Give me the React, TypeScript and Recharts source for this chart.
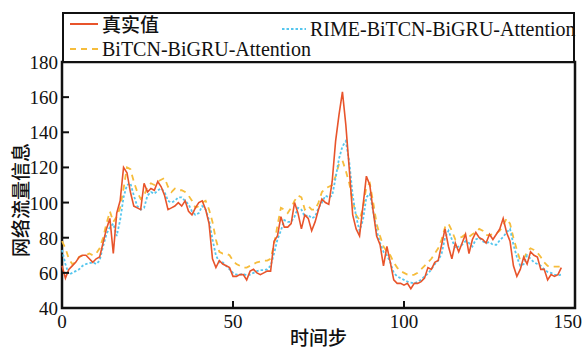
import React from "react";
import { LineChart, Line, XAxis, YAxis, ReferenceArea, Legend } from "recharts";

// 网络流量：真实值与两个模型的预测值（每个时间步一个点）
const actual = [
  64, 57, 62, 64, 66, 69, 70, 70, 68, 66,
  68, 69, 77, 85, 91, 71, 94, 101, 120, 117,
  106, 98, 97, 96, 111, 106, 108, 107, 112, 109,
  104, 96, 97, 98, 100, 98, 101, 95, 93, 97,
  100, 101, 96, 88, 68, 63, 67, 65, 64, 63,
  58, 58, 59, 59, 56, 61, 62, 60, 59, 60,
  61, 61, 78, 81, 92, 86, 86, 88, 100, 94,
  85, 93, 91, 84, 89, 96, 102, 100, 99, 112,
  135, 150, 163, 144, 119, 93, 85, 81, 98, 115,
  110, 95, 81, 76, 64, 75, 66, 56, 54, 54,
  53, 54, 51, 54, 54, 55, 57, 63, 62, 66,
  67, 76, 85, 75, 68, 77, 72, 77, 82, 71,
  79, 83, 80, 79, 77, 82, 79, 82, 85, 91,
  83, 78, 64, 58, 62, 69, 65, 72, 70, 69,
  62, 62, 56, 59, 58, 59, 63,
];

const rimeModel = [
  73, 65, 59, 60, 61, 62, 64, 65, 65.5, 66,
  65, 67, 75, 82, 86, 88, 81, 90, 103, 110,
  111, 104, 98, 96, 97, 104, 106, 105, 107, 108,
  106, 101, 100, 101, 103, 103, 101, 99, 95, 93,
  94, 98, 96, 90, 79, 70, 66, 66, 64, 62,
  60, 59, 59, 59.5, 58.5, 59, 60, 61, 61.5, 61.5,
  62, 64, 71, 79, 84, 90, 89, 89, 92, 97,
  96, 92, 93, 91, 92, 97, 100, 104, 103, 104,
  114, 125, 132, 135, 123, 104, 92, 84, 90, 103,
  105, 95, 84, 77, 72, 70, 66, 60, 58, 57,
  56, 55, 54.5, 54, 55, 56, 58, 59.5, 62, 65,
  67, 71, 80, 84, 79, 74, 75, 76, 78, 77,
  75, 79, 80, 78, 77, 77.5, 76, 76, 78.5, 80.5,
  83, 85, 76, 69, 64, 65, 70, 68, 66, 65,
  64, 62, 60.5, 60, 59, 58.5, 59,
];

const baseModel = [
  78, 74, 68, 65, 66, 69, 70, 70, 71, 70,
  71, 74, 80, 88, 95, 89, 92, 97, 108, 120,
  119, 112, 106, 102, 104, 109, 111, 110, 112, 113,
  114, 109, 106, 108, 107, 107, 106, 104, 101, 97,
  98, 100, 101, 96, 89, 79, 72, 71, 71, 70,
  67, 65, 64, 63, 63, 64, 65, 66, 66.5, 67,
  67, 68, 76, 87, 97, 96, 94, 97, 101, 104,
  103, 96, 98, 96, 96, 100, 106, 108, 109, 110,
  115, 122, 124, 118, 111, 101, 93, 90, 97, 109,
  111, 100, 88, 81, 75, 72, 70, 66, 63, 61,
  60, 59, 58.5, 59, 60, 62, 64, 66, 68, 71,
  74, 79, 86, 88, 84, 79, 80, 80.5, 82, 80.5,
  82, 83, 85, 84, 81.5, 81.5, 82, 82.5, 84, 87,
  91, 88, 80, 73, 67, 68, 72, 74, 73, 71.5,
  69, 66, 64, 63.5, 63.5, 63.5, 63.5,
];

const xTicks = [0, 50, 100, 150];
const yTicks = [40, 60, 80, 100, 120, 140, 160, 180];

const data = actual.map((v, i) => ({
  step: i,
  actual: v,
  rime: rimeModel[i],
  base: baseModel[i],
}));

const RED = "#e8542b";
const CYAN = "#55c6ee";
const YELLOW = "#f6bd3c";
const FONT = '"Liberation Serif", "Times New Roman", "Noto Sans CJK SC", serif';
const CJK = '"Noto Sans CJK SC", sans-serif';

const XTick = (props: any) => {
  const { x, y, payload } = props;
  const v = payload.value;
  const inner = v !== 0 && v !== 150;
  // the last label sits left of the corner so it stays inside the page
  const last = v === 150;
  return (
    <g>
      {inner && <line x1={x} x2={x} y1={y} y2={y - 7} stroke="#111" strokeWidth={2} />}
      <text
        x={last ? x + 7 : x}
        y={y + 20}
        textAnchor={last ? "end" : "middle"}
        fontSize={19}
        fontFamily={FONT}
        fill="#111"
      >
        {v}
      </text>
    </g>
  );
};

const YTick = (props: any) => {
  const { x, y, payload } = props;
  const v = payload.value;
  const inner = v !== 40 && v !== 180;
  return (
    <g>
      {inner && <line x1={x} x2={x + 7} y1={y} y2={y} stroke="#111" strokeWidth={2} />}
      <text x={x - 4} y={y + 7} textAnchor="end" fontSize={19} fontFamily={FONT} fill="#111">
        {v}
      </text>
    </g>
  );
};

const YLabel = (props: any) => {
  const vb = props.viewBox || { x: 0, y: 62, width: 62, height: 246 };
  const cy = vb.y + vb.height / 2 + 15;
  return (
    <text
      x={19}
      y={cy}
      transform={`rotate(-90, 19, ${cy})`}
      textAnchor="middle"
      dominantBaseline="central"
      fontSize={19}
      fontWeight={500}
      fontFamily={CJK}
      fill="#111"
    >
      网络流量信息
    </text>
  );
};

const XLabel = (props: any) => {
  const vb = props.viewBox || { x: 62, y: 308, width: 513, height: 41 };
  return (
    <text
      x={vb.x + vb.width / 2}
      y={vb.y + 37}
      textAnchor="middle"
      fontSize={19}
      fontWeight={500}
      fontFamily={CJK}
      fill="#111"
    >
      时间步
    </text>
  );
};

const Swatch = ({ color, dash, w = 28 }: { color: string; dash?: string; w?: number }) => (
  <svg width={w} height={6} style={{ display: "block" }}>
    <line x1={0} x2={w} y1={3} y2={3} stroke={color} strokeWidth={2} strokeDasharray={dash} />
  </svg>
);

const LegendBox = () => {
  const item = (
    left: number,
    top: number,
    color: string,
    dash: string | undefined,
    w: number,
    label: string,
    cjk?: boolean
  ) => (
    <div style={{ position: "absolute", left, top, display: "flex", alignItems: "center", gap: 4 }}>
      <Swatch color={color} dash={dash} w={w} />
      <span
        style={{
          fontFamily: cjk ? CJK : FONT,
          fontSize: cjk ? 19 : 20,
          fontWeight: cjk ? 500 : 400,
          color: "#111",
          lineHeight: "22px",
          whiteSpace: "nowrap",
        }}
      >
        {label}
      </span>
    </div>
  );
  return (
    <div
      style={{
        position: "relative",
        width: 513,
        height: 51,
        border: "2px solid #111",
        boxSizing: "border-box",
        background: "#fff",
      }}
    >
      {item(6, -1, RED, undefined, 28, "真实值", true)}
      {item(218, 4, CYAN, "2.5 2", 24, "RIME-BiTCN-BiGRU-Attention")}
      {item(6, 24, YELLOW, "6 5", 28, "BiTCN-BiGRU-Attention")}
    </div>
  );
};

export default function App() {
  return (
    <div style={{ position: "absolute", left: 0, top: 0, width: 585, height: 349, background: "#fff" }}>
      <LineChart width={585} height={349} data={data} margin={{ top: 62, right: 10, bottom: 0, left: 0 }}>
        <XAxis
          dataKey="step"
          type="number"
          domain={[0, 150]}
          ticks={xTicks}
          height={41}
          axisLine={false}
          tickLine={false}
          tickSize={0}
          tickMargin={0}
          tick={<XTick />}
          interval={0}
          label={<XLabel />}
        />
        <YAxis
          type="number"
          domain={[40, 180]}
          ticks={yTicks}
          width={62}
          axisLine={false}
          tickLine={false}
          tickSize={0}
          tickMargin={0}
          tick={<YTick />}
          interval={0}
          label={<YLabel />}
        />
        <Legend
          layout="horizontal"
          verticalAlign="middle"
          align="center"
          content={<LegendBox />}
          wrapperStyle={{ position: "absolute", left: 62, top: 12, width: 513, height: 51 }}
        />
        <Line
          dataKey="base"
          stroke={YELLOW}
          strokeWidth={1.8}
          strokeDasharray="6 5"
          dot={false}
          isAnimationActive={false}
        />
        <Line
          dataKey="rime"
          stroke={CYAN}
          strokeWidth={1.8}
          strokeDasharray="2.5 2"
          dot={false}
          isAnimationActive={false}
        />
        <Line dataKey="actual" stroke={RED} strokeWidth={1.6} dot={false} isAnimationActive={false} />
        <ReferenceArea
          x1={0}
          x2={150}
          y1={40}
          y2={180}
          fill="none"
          stroke="#111"
          strokeWidth={2.5}
          ifOverflow="visible"
        />
      </LineChart>
    </div>
  );
}
